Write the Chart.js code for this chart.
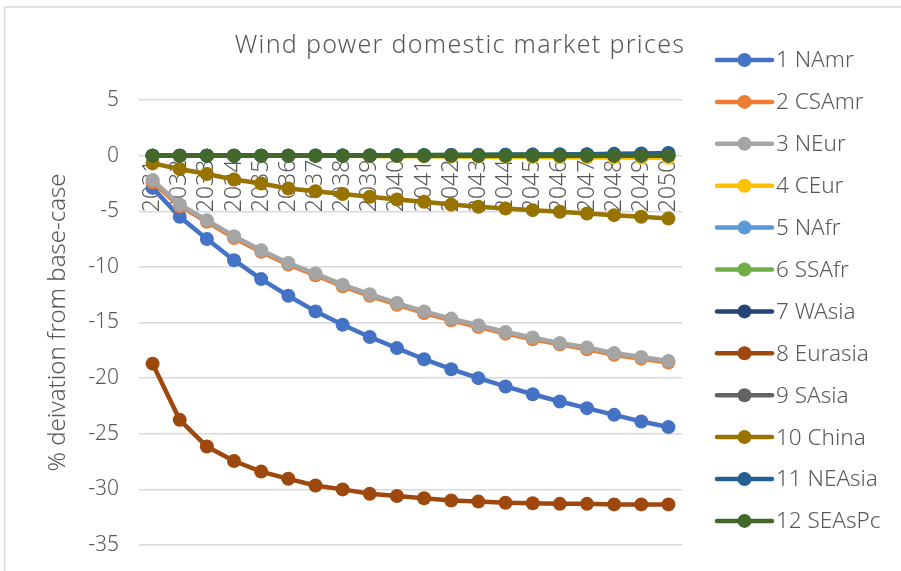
<!DOCTYPE html>
<html>
<head>
<meta charset="utf-8">
<script src="https://cdn.jsdelivr.net/npm/chart.js@4/dist/chart.umd.min.js"></script>
<style>
  html, body { margin: 0; padding: 0; background: #ffffff; }
  #wrap { width: 901px; height: 571px; position: relative; }
</style>
</head>
<body>
<div id="wrap"><canvas id="c" width="901" height="571"></canvas></div>
<script>
// Years on the category axis
const years = ['2031','2032','2033','2034','2035','2036','2037','2038','2039','2040',
               '2041','2042','2043','2044','2045','2046','2047','2048','2049','2050'];

// Region names (legend order)
const regions = ['1 NAmr','2 CSAmr','3 NEur','4 CEur','5 NAfr','6 SSAfr',
                 '7 WAsia','8 Eurasia','9 SAsia','10 China','11 NEAsia','12 SEAsPc'];

// % deviation from base-case, per region
const nAmr    = [-2.9, -5.5, -7.5, -9.4, -11.1, -12.6, -14.0, -15.2, -16.3, -17.3, -18.3, -19.2, -20.0, -20.75, -21.45, -22.1, -22.7, -23.3, -23.9, -24.4];
const csAmr   = [-2.4, -4.55, -5.95, -7.4, -8.65, -9.8, -10.75, -11.75, -12.6, -13.4, -14.15, -14.8, -15.4, -16.0, -16.5, -16.95, -17.4, -17.9, -18.25, -18.6];
const nEur    = [-2.2, -4.4, -5.8, -7.25, -8.5, -9.65, -10.6, -11.6, -12.45, -13.25, -14.0, -14.65, -15.25, -15.85, -16.35, -16.85, -17.25, -17.75, -18.1, -18.45];
const cEur    = [0, 0, 0, 0, 0, 0, -0.01, -0.02, -0.03, -0.05, -0.06, -0.08, -0.1, -0.11, -0.13, -0.14, -0.16, -0.17, -0.19, -0.2];
const nAfr    = [0, 0, 0, 0, 0, 0, 0.01, 0.01, 0.02, 0.03, 0.04, 0.05, 0.06, 0.07, 0.08, 0.09, 0.1, 0.11, 0.13, 0.15];
const ssAfr   = [0, 0, 0, 0, 0, 0, 0.01, 0.02, 0.03, 0.04, 0.05, 0.06, 0.07, 0.08, 0.09, 0.1, 0.1, 0.11, 0.12, 0.12];
const wAsia   = [0, 0, 0, 0, 0, 0, 0, 0, 0, 0, 0, 0, 0, 0, 0, 0, 0, 0, 0, 0];
const eurasia = [-18.7, -23.75, -26.15, -27.45, -28.4, -29.05, -29.65, -30.0, -30.4, -30.6, -30.8, -31.0, -31.1, -31.2, -31.25, -31.3, -31.3, -31.35, -31.35, -31.35];
const sAsia   = [0, 0, 0, 0, 0, 0, 0, 0, 0, 0, 0, 0, 0, 0, 0, 0, 0, 0, 0, 0];
const china   = [-0.7, -1.2, -1.65, -2.15, -2.5, -2.95, -3.2, -3.45, -3.7, -3.95, -4.15, -4.4, -4.6, -4.75, -4.9, -5.05, -5.2, -5.35, -5.5, -5.65];
const neAsia  = [0, 0, 0, 0, 0, 0, 0, 0.01, 0.02, 0.03, 0.04, 0.05, 0.06, 0.07, 0.09, 0.11, 0.13, 0.16, 0.2, 0.24];
const seAsPc  = [0, 0, 0, 0, 0, 0, 0, 0, 0, 0, 0, 0, 0, 0, 0, 0, 0, 0, 0, 0];

const seriesValues = [nAmr, csAmr, nEur, cEur, nAfr, ssAfr, wAsia, eurasia, sAsia, china, neAsia, seAsPc];
const seriesColors = ['#4472C4','#ED7D31','#A5A5A5','#FFC000','#5B9BD5','#70AD47',
                      '#264478','#9E480E','#636363','#997300','#255E91','#43682B'];

const chartTitle = 'Wind power domestic market prices';
const yTitle = '% deivation from base-case';

const FONT = '"Noto Sans", "DejaVu Sans", sans-serif';
const TEXT = '#595959';
const GRID = '#D9D9D9';

// Outer frame, title and line-with-marker legend
const decorations = {
  id: 'decorations',
  beforeDraw(chart) {
    const ctx = chart.ctx;
    ctx.save();
    ctx.strokeStyle = GRID;
    ctx.lineWidth = 1.5;
    ctx.strokeRect(4.5, 7, 1200, 1200);
    ctx.restore();
  },
  afterDraw(chart) {
    const ctx = chart.ctx;
    ctx.save();
    ctx.fillStyle = TEXT;
    ctx.font = '300 25px ' + FONT;
    ctx.letterSpacing = '1.3px';
    ctx.textAlign = 'center';
    ctx.textBaseline = 'middle';
    ctx.fillText(chartTitle, 460, 46);
    ctx.letterSpacing = '0px';

    const x0 = 717, x1 = 772, top = 60, step = 41.9;
    chart.data.datasets.forEach((ds, i) => {
      const y = top + i * step;
      ctx.strokeStyle = ds.borderColor;
      ctx.lineWidth = 4.5;
      ctx.lineCap = 'round';
      ctx.beginPath();
      ctx.moveTo(x0, y);
      ctx.lineTo(x1, y);
      ctx.stroke();
      ctx.fillStyle = ds.backgroundColor;
      ctx.beginPath();
      ctx.arc((x0 + x1) / 2, y, 7, 0, Math.PI * 2);
      ctx.fill();
      ctx.fillStyle = TEXT;
      ctx.font = '300 22.5px ' + FONT;
      ctx.textAlign = 'left';
      ctx.textBaseline = 'middle';
      ctx.fillText(ds.label, x1 + 4, y + 1);
    });
    ctx.restore();
  }
};

// Scale edge padding is absorbed by the layout padding
function noEdgePadding(scale) {
  scale.paddingTop = 0;
  scale.paddingBottom = 0;
}

const datasets = regions.map((name, i) => ({
  label: name,
  data: seriesValues[i],
  borderColor: seriesColors[i],
  backgroundColor: seriesColors[i],
  borderWidth: 4.5,
  pointRadius: 7,
  pointBorderWidth: 0,
  pointHoverRadius: 7,
  tension: 0,
  order: regions.length - 1 - i
}));

new Chart(document.getElementById('c'), {
  type: 'line',
  data: { labels: years, datasets },
  plugins: [decorations],
  options: {
    responsive: false,
    animation: false,
    events: [],
    layout: { padding: { left: 0, right: 219, top: 100, bottom: 26 } },
    plugins: {
      legend: { display: false },
      title: { display: false },
      tooltip: { enabled: false }
    },
    scales: {
      x: {
        position: { y: 0 },
        offset: true,
        z: 1,
        afterFit(scale) { scale.height = 0; noEdgePadding(scale); },
        grid: { display: false, drawTicks: false },
        border: { display: false },
        ticks: {
          color: TEXT,
          font: { family: FONT, size: 23, weight: 300 },
          minRotation: 90,
          maxRotation: 90,
          padding: 4,
          autoSkip: false
        }
      },
      y: {
        min: -35,
        max: 5,
        afterFit(scale) { scale.width = 139; noEdgePadding(scale); },
        grid: { color: GRID, lineWidth: 1.5, drawTicks: false },
        border: { display: false },
        ticks: {
          stepSize: 5,
          color: TEXT,
          padding: 20,
          font: { family: FONT, size: 21, weight: 300 }
        },
        title: {
          display: true,
          text: yTitle,
          color: TEXT,
          font: { family: FONT, size: 24, weight: 300 },
          padding: { top: 44, bottom: 0 }
        }
      }
    }
  }
});
</script>
</body>
</html>
